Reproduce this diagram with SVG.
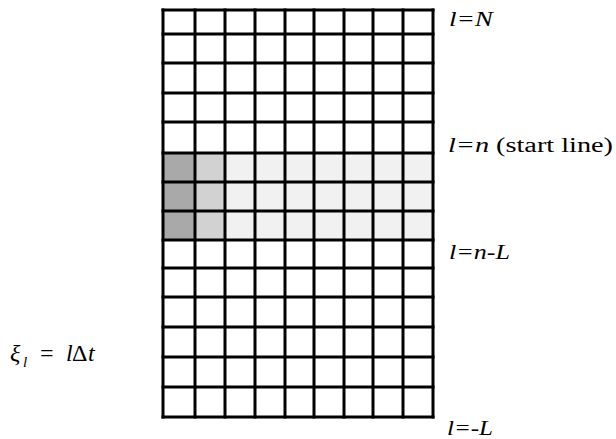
<svg xmlns="http://www.w3.org/2000/svg" width="616" height="439" viewBox="0 0 616 439">
<style>
.ln{stroke:#000;stroke-width:3;fill:none;stroke-linecap:square}
text{font-family:"Liberation Serif","Times New Roman",serif;fill:#000}
.i{font-style:italic}
</style>
<rect width="616" height="439" fill="#fff"/>
<g id="shading">
<rect x="163" y="153" width="32" height="87" fill="#a9a9a9"/>
<rect x="195" y="153" width="30" height="87" fill="#d2d2d2"/>
<rect x="225" y="153" width="208" height="87" fill="#f1f1f1"/>
</g>
<g id="grid" class="ln">
<path d="M163 10V417M195 10V417M225 10V417M255 10V417M285 10V417M314 10V417M344 10V417M373 10V417M403 10V417M433 10V417"/>
<path d="M163 10H433M163 34H433M163 63H433M163 93H433M163 122H433M163 153H433M163 182H433M163 211H433M163 240H433M163 268H433M163 297H433M163 327H433M163 357H433M163 387H433M163 417H433"/>
</g>
<g id="labels">
<text class="i" font-size="20" x="449" y="26" textLength="44" lengthAdjust="spacingAndGlyphs">l=N</text>
<text font-size="20" x="448" y="152" textLength="165" lengthAdjust="spacingAndGlyphs"><tspan class="i">l=n</tspan> (start line)</text>
<text class="i" font-size="20" x="449" y="259" textLength="61" lengthAdjust="spacingAndGlyphs">l=n-L</text>
<text class="i" font-size="20" x="447" y="435" textLength="46" lengthAdjust="spacingAndGlyphs">l=-L</text>
<text font-size="24" x="10" y="361"><tspan class="i">ξ</tspan><tspan class="i" font-size="15" x="23" dy="6">l</tspan><tspan dy="-6" x="40">=</tspan><tspan class="i" x="66">l</tspan><tspan x="72">Δ</tspan><tspan class="i" x="88">t</tspan></text>
</g>
</svg>
